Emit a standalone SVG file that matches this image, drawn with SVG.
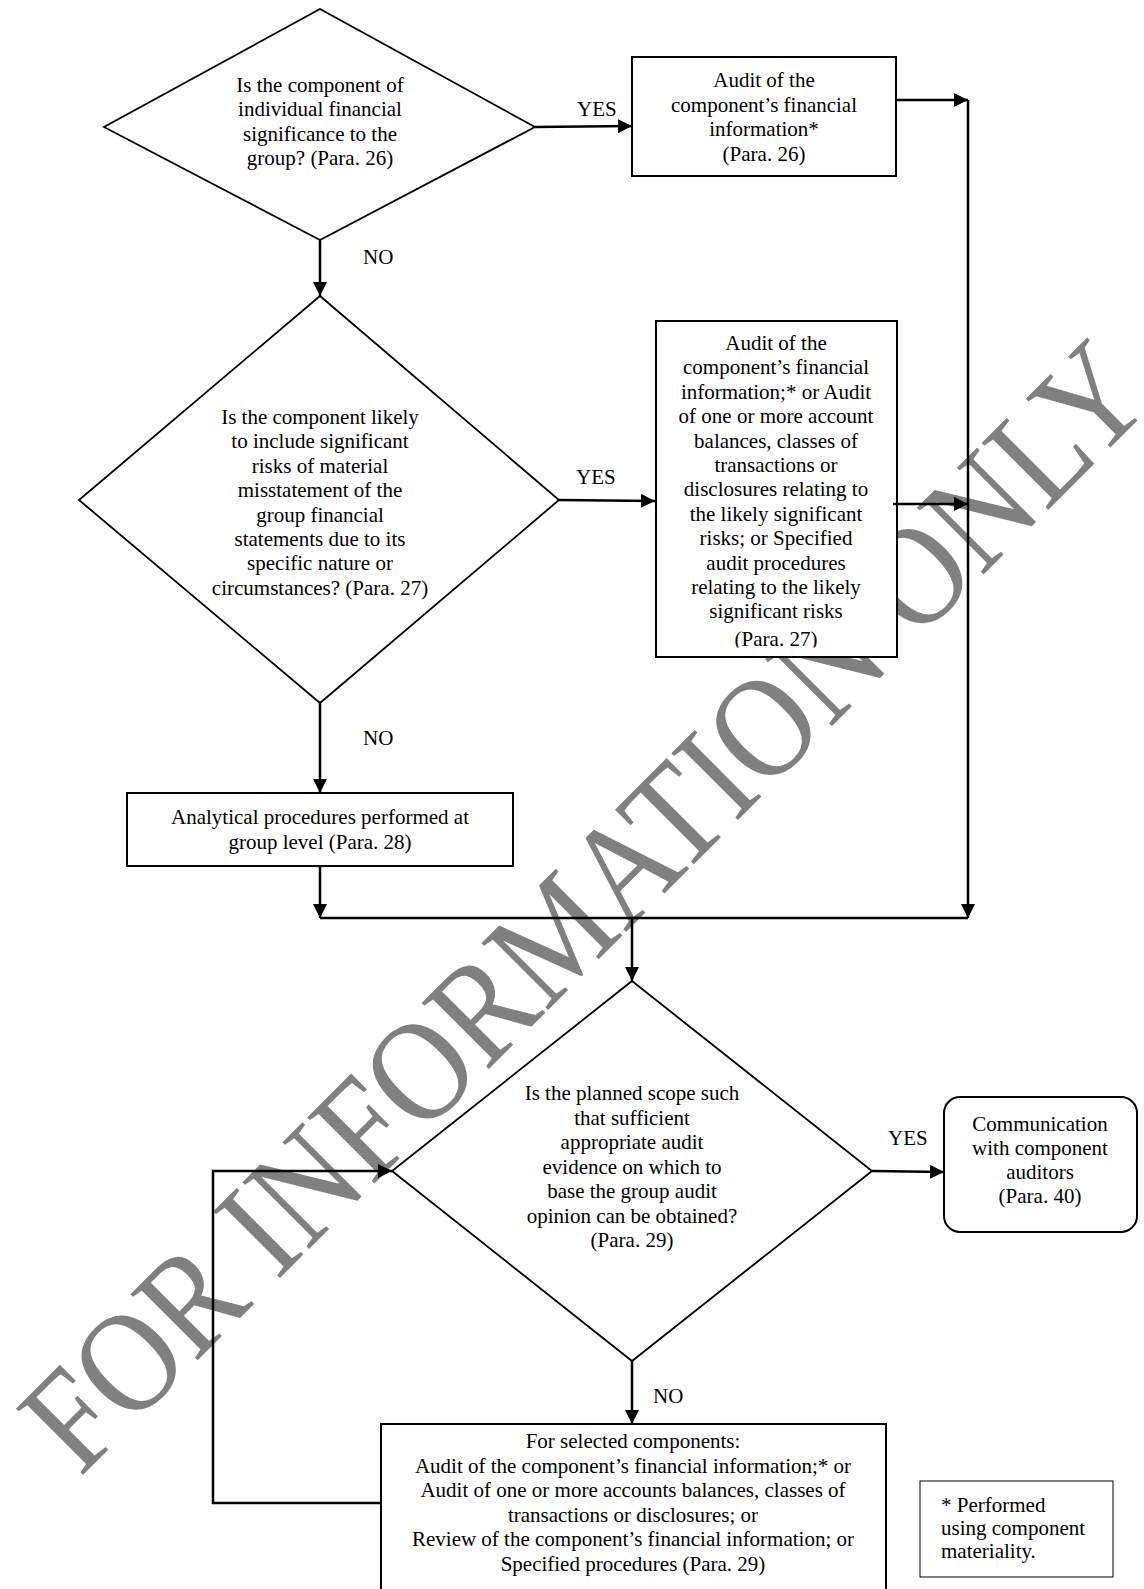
<svg xmlns="http://www.w3.org/2000/svg" width="1144" height="1589" viewBox="0 0 1144 1589">
<style>
text{font-family:"Liberation Serif","Times New Roman",serif;font-size:21px;fill:#000}
.c{text-anchor:middle}
.shape{fill:#fff;stroke:#000;stroke-width:2}
.dia{fill:#fff;stroke:#000;stroke-width:1.8}
.wm{font-size:144px;fill:#808080}
#connectors path{fill:none;stroke:#000;stroke-width:2.5}
</style>
<defs>
<marker id="ah" viewBox="0 0 14 14" refX="14" refY="7" markerWidth="14" markerHeight="14" markerUnits="userSpaceOnUse" orient="auto">
<path d="M0,0 L14,7 L0,14 Z" fill="#000"/>
</marker>
<clipPath id="b2clip"><rect x="656" y="321" width="241" height="326.5"/></clipPath>
</defs>
<rect width="1144" height="1589" fill="#fff"/>
<g id="watermark"><text class="wm" x="0" y="0" transform="translate(80,1478) rotate(-45) scale(0.88,1)">FOR INFORMATION ONLY</text></g>

<g id="d1"><polygon class="dia" points="320,9 535,127 320,240 104,127"/>
<text class="c" x="320" y="92">Is the component of</text>
<text class="c" x="320" y="116.4">individual financial</text>
<text class="c" x="320" y="140.8">significance to the</text>
<text class="c" x="320" y="165.2">group? (Para. 26)</text></g>

<g id="b1"><rect class="shape" x="632" y="57" width="264" height="119"/>
<text class="c" x="764" y="87">Audit of the</text>
<text class="c" x="764" y="111.5">component’s financial</text>
<text class="c" x="764" y="136">information*</text>
<text class="c" x="764" y="160.5">(Para. 26)</text></g>

<g id="d2"><polygon class="dia" points="320,296 559,500 320,703 79,500"/>
<text class="c" x="320" y="424">Is the component likely</text>
<text class="c" x="320" y="448.4">to include significant</text>
<text class="c" x="320" y="472.8">risks of material</text>
<text class="c" x="320" y="497.2">misstatement of the</text>
<text class="c" x="320" y="521.6">group financial</text>
<text class="c" x="320" y="546">statements due to its</text>
<text class="c" x="320" y="570.4">specific nature or</text>
<text class="c" x="320" y="594.8">circumstances? (Para. 27)</text></g>

<g id="b2"><rect class="shape" x="656" y="321" width="241" height="336"/>
<g clip-path="url(#b2clip)">
<text class="c" x="776" y="350">Audit of the</text>
<text class="c" x="776" y="374.4">component’s financial</text>
<text class="c" x="776" y="398.8">information;* or Audit</text>
<text class="c" x="776" y="423.2">of one or more account</text>
<text class="c" x="776" y="447.6">balances, classes of</text>
<text class="c" x="776" y="472">transactions or</text>
<text class="c" x="776" y="496.4">disclosures relating to</text>
<text class="c" x="776" y="520.8">the likely significant</text>
<text class="c" x="776" y="545.2">risks; or Specified</text>
<text class="c" x="776" y="569.6">audit procedures</text>
<text class="c" x="776" y="594">relating to the likely</text>
<text class="c" x="776" y="618.4">significant risks</text>
<text class="c" x="776" y="645.5">(Para. 27)</text>
</g></g>

<g id="b3"><rect class="shape" x="127" y="793" width="386" height="73"/>
<text class="c" x="320" y="823.5">Analytical procedures performed at</text>
<text class="c" x="320" y="849">group level (Para. 28)</text></g>

<g id="d3"><polygon class="dia" points="632,981 872,1171 632,1361 392,1171"/>
<text class="c" x="632" y="1100">Is the planned scope such</text>
<text class="c" x="632" y="1124.5">that sufficient</text>
<text class="c" x="632" y="1149">appropriate audit</text>
<text class="c" x="632" y="1173.5">evidence on which to</text>
<text class="c" x="632" y="1198">base the group audit</text>
<text class="c" x="632" y="1222.5">opinion can be obtained?</text>
<text class="c" x="632" y="1247">(Para. 29)</text></g>

<g id="b5"><rect class="shape" x="944" y="1097" width="193" height="135" rx="16" ry="16"/>
<text class="c" x="1040" y="1131">Communication</text>
<text class="c" x="1040" y="1155">with component</text>
<text class="c" x="1040" y="1179">auditors</text>
<text class="c" x="1040" y="1203">(Para. 40)</text></g>

<g id="b4"><rect class="shape" x="381" y="1424" width="505" height="170"/>
<text class="c" x="633" y="1448">For selected components:</text>
<text class="c" x="633" y="1472.5">Audit of the component’s financial information;* or</text>
<text class="c" x="633" y="1497">Audit of one or more accounts balances, classes of</text>
<text class="c" x="633" y="1521.5">transactions or disclosures; or</text>
<text class="c" x="633" y="1546">Review of the component’s financial information; or</text>
<text class="c" x="633" y="1570.5">Specified procedures (Para. 29)</text></g>

<g id="note"><rect x="920" y="1481" width="193" height="96" fill="#fff" stroke="#000" stroke-width="1"/>
<text x="941" y="1512">* Performed</text>
<text x="941" y="1535">using component</text>
<text x="941" y="1558">materiality.</text></g>

<g id="connectors">
<path d="M535,127 L632,126" marker-end="url(#ah)"/>
<path d="M896,100 L968,100" marker-end="url(#ah)"/>
<path d="M968,100 L968,918" marker-end="url(#ah)"/>
<path d="M320,240 L320,296" marker-end="url(#ah)"/>
<path d="M559,500 L655,501" marker-end="url(#ah)"/>
<path d="M893,504 L968,504" marker-end="url(#ah)"/>
<path d="M320,703 L320,793" marker-end="url(#ah)"/>
<path d="M320,866 L320,918" marker-end="url(#ah)"/>
<path d="M320,918 L968,918"/>
<path d="M632,918 L632,981" marker-end="url(#ah)"/>
<path d="M872,1171 L944,1172" marker-end="url(#ah)"/>
<path d="M632,1361 L632,1424" marker-end="url(#ah)"/>
<path d="M381,1503 L213,1503 L213,1171 L392,1171" marker-end="url(#ah)"/>
<text x="577" y="116">YES</text>
<text x="363" y="264">NO</text>
<text x="576" y="484">YES</text>
<text x="363" y="745">NO</text>
<text x="888" y="1145">YES</text>
<text x="653" y="1403">NO</text>
</g>
</svg>
